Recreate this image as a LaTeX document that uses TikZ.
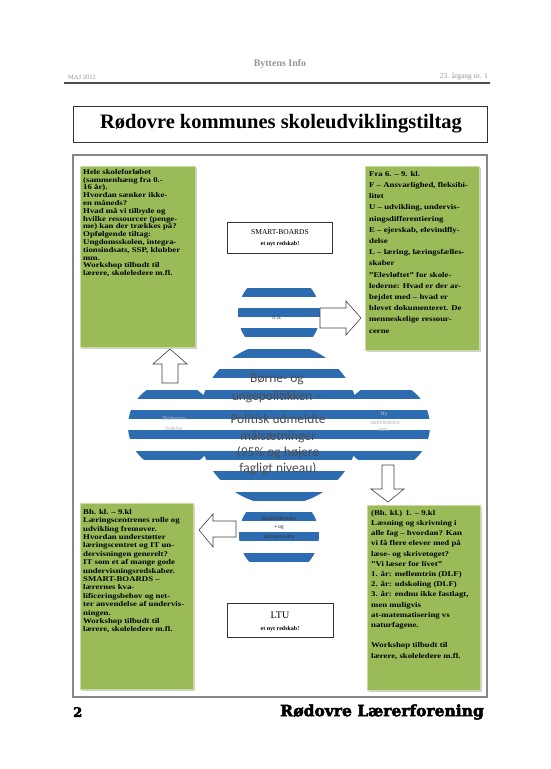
\documentclass[tikz,border=0pt]{standalone}
\usepackage{fontspec}
\setmainfont{Liberation Serif}
\newfontfamily\boxfont[FakeStretch=1.2]{Liberation Serif}
\newfontfamily\calib{Carlito}
\newfontfamily\heavyfont[FakeBold=3]{DejaVu Serif}
\usetikzlibrary{shadows}
\definecolor{boxgreen}{RGB}{155,187,89}
\definecolor{boxedge}{RGB}{200,218,160}
\definecolor{stripeblue}{RGB}{46,108,178}
\definecolor{framegray}{RGB}{135,135,135}
\definecolor{headgray}{RGB}{150,150,150}
\tikzset{
  greenbox/.style={fill=boxgreen, draw=boxedge, line width=0.8pt, inner sep=0pt,
    drop shadow={shadow xshift=1.5pt, shadow yshift=-1.5pt, fill=gray!45, opacity=0.8}},
  boxtext/.style={align=left, inner sep=0pt, anchor=north west, text=black},
  whitebox/.style={draw=black!80, line width=0.6pt, fill=white, inner sep=0pt},
  blockarrow/.style={draw=black!75, line width=0.6pt, fill=white},
  stripe/.style={fill=stripeblue},
  circletext/.style={inner sep=0pt, font=\calib\fontsize{6}{7}\selectfont, text=gray!55},
  maintext/.style={inner sep=0pt, font=\calib\fontsize{13.5}{15}\selectfont, text=black!70}
}
\begin{document}
\begin{tikzpicture}[x=1pt,y=-1pt]
\useasboundingbox (0,0) rectangle (550,769);
\fill[white] (0,0) rectangle (550,769);

% header
\node[inner sep=0pt, text=headgray, font=\bfseries\fontsize{10}{12}\selectfont] (hdr) at (280,64) {Byttens Info};
\node[inner sep=0pt, text=headgray, font=\fontsize{6.5}{8}\selectfont, anchor=west] (hdl) at (68,77) {MAJ 2012};
\node[inner sep=0pt, text=headgray, font=\fontsize{7.5}{9}\selectfont, anchor=east] (hdrt) at (488,77) {23. årgang nr. 1};
\draw[line width=1.6pt, black!70] (64,83) -- (490,83);

% title
\node[whitebox, minimum width=414pt, minimum height=36pt, anchor=north west] (titlebox) at (73,106) {};
\node[inner sep=0pt, font=\bfseries\fontsize{20.5}{24}\selectfont] (title) at (281,124) {Rødovre kommunes skoleudviklingstiltag};

% frame
\draw[framegray, line width=1.4pt] (73,155) rectangle (487,697);

% green boxes
\node[greenbox, minimum width=115pt, minimum height=181pt, anchor=north west] (tl) at (80,166) {};
\node[greenbox, minimum width=114pt, minimum height=184pt, anchor=north west] (tr) at (365,166) {};
\node[greenbox, minimum width=113pt, minimum height=186pt, anchor=north west] (bl) at (80,503) {};
\node[greenbox, minimum width=113pt, minimum height=185pt, anchor=north west] (br) at (367,505) {};

\node[boxtext, font=\boxfont\bfseries\fontsize{7.3}{7.8}\selectfont] (tlt) at ([xshift=3pt,yshift=-3pt]tl.north west) {%
Hele skoleforløbet\\
(sammenhæng fra 0.-\\
16 år).\\
Hvordan sænker ikke-\\
en måneds?\\
Hvad må vi tilbyde og\\
hvilke ressourcer (penge-\\
me) kan der trækkes på?\\
Opfølgende tiltag:\\
Ungdomsskolen, integra-\\
tionsindsats, SSP, klubber\\
mm.\\
Workshop tilbudt til\\
lærere, skoleledere m.fl.};

\node[boxtext, font=\boxfont\bfseries\fontsize{7.3}{11.2}\selectfont] (trt) at ([xshift=4pt,yshift=-5pt]tr.north west) {%
Fra 6. – 9. kl.\\
F – Ansvarlighed, fleksibi-\\
litet\\
U – udvikling, undervis-\\
ningsdifferentiering\\
E – ejerskab, elevindfly-\\
delse\\
L – læring, læringsfælles-\\
skaber\\
”Elevløftet” for skole-\\
lederne: Hvad er der ar-\\
bejdet med – hvad er\\
blevet dokumenteret. De\\
menneskelige ressour-\\
cerne};

\node[boxtext, font=\boxfont\bfseries\fontsize{7.3}{8.4}\selectfont] (blt) at ([xshift=3pt,yshift=-6pt]bl.north west) {%
Bh. kl. – 9.kl\\
Læringscentrenes rolle og\\
udvikling fremover.\\
Hvordan understøtter\\
læringscentret og IT un-\\
dervisningen generelt?\\
IT som et af mange gode\\
undervisningsredskaber.\\
SMART-BOARDS –\\
lærernes kva-\\
lificeringsbehov og net-\\
ter anvendelse af undervis-\\
ningen.\\
Workshop tilbudt til\\
lærere, skoleledere m.fl.};

\node[boxtext, font=\boxfont\bfseries\fontsize{7.3}{10.2}\selectfont] (brt) at ([xshift=4pt,yshift=-5pt]br.north west) {%
(Bh. kl.) 1. – 9.kl\\
Læsning og skrivning i\\
alle fag – hvordan? Kan\\
vi få flere elever med på\\
læse- og skrivetoget?\\
”Vi læser for livet”\\
1. år: mellemtrin (DLF)\\
2. år: udskoling (DLF)\\
3. år: endnu ikke fastlagt,\\
men muligvis\\
at-matematisering vs\\
naturfagene.\\[10.2pt]
Workshop tilbudt til\\
lærere, skoleledere m.fl.};

% small white boxes
\node[whitebox, minimum width=105pt, minimum height=31pt, anchor=north west] (smart) at (227,222) {};
\node[inner sep=0pt, font=\fontsize{7.5}{9}\selectfont] (smart1) at (280,232) {SMART-BOARDS};
\node[inner sep=0pt, font=\bfseries\fontsize{6}{7}\selectfont] (smart2) at (280,244) {et nyt redskab!};
\node[whitebox, minimum width=106pt, minimum height=34pt, anchor=north west] (ltu) at (227,603) {};
\node[inner sep=0pt, font=\fontsize{10}{12}\selectfont] (ltu1) at (280,615) {LTU};
\node[inner sep=0pt, font=\bfseries\fontsize{6}{7}\selectfont] (ltu2) at (280,629) {et nyt redskab!};

% striped circles
\coordinate (ctop) at (279,314);
\coordinate (cmid) at (279,424);
\coordinate (cleft) at (172,426);
\coordinate (cright) at (386,426);
\coordinate (cbot) at (279,535);
\begin{scope}
\clip (ctop) circle[radius=41pt] (cmid) circle[radius=81pt] (cleft) circle[radius=44pt]
      (cright) circle[radius=44pt] (cbot) circle[radius=40pt];
\foreach \k in {0,...,13} {
  \fill[stripe] (120,{287.5+20.4*\k}) rectangle (440,{296.5+20.4*\k});
}
\end{scope}

% circle texts
\node[inner sep=0pt, font=\calib\fontsize{6}{7}\selectfont, text=black!70] (toptext) at (277,317) {n.å.};
\node[maintext] (m1) at (277,379) {Børne- og};
\node[maintext] (m2) at (277,397) {ungepolitikken –};
\node[maintext] (m3) at (278,419) {Politisk udmeldte};
\node[maintext] (m4) at (278,437) {målsætninger};
\node[maintext] (m5) at (278,453) {(95\% og højere};
\node[maintext] (m6) at (278,469) {fagligt niveau)};
\node[circletext] (l1) at (174,418) {Skolernes};
\node[circletext] (l2) at (174,428) {ledelse};
\node[circletext] (r1) at (384,414) {Ny};
\node[circletext] (r2) at (385,422) {skoleledelse};
\node[circletext] (r3) at (384,430) {mm.};
\node[inner sep=0pt, font=\calib\fontsize{5.5}{6}\selectfont, text=black!80] (b1) at (279,519) {Skolebiblioteker};
\node[inner sep=0pt, font=\calib\fontsize{5.5}{6}\selectfont, text=black!80] (b2) at (279,527) {+ og};
\node[inner sep=0pt, font=\calib\fontsize{5.5}{6}\selectfont, text=black!80] (b3) at (279,537) {læringscentre};

% block arrows
\draw[blockarrow] (162,383) -- (162,364) -- (153,364) -- (170,349) -- (187,364) -- (178,364) -- (178,383) -- cycle;
\draw[blockarrow] (320,308) -- (346,308) -- (346,301) -- (361,318) -- (346,335) -- (346,328) -- (320,328) -- cycle;
\draw[blockarrow] (382,465) -- (382,489) -- (371,489) -- (388,502) -- (404,489) -- (394,489) -- (394,465) -- cycle;
\draw[blockarrow] (236,521) -- (213,521) -- (213,514) -- (199,530) -- (213,547) -- (213,537) -- (236,537) -- cycle;

% footer
\node[inner sep=0pt, font=\heavyfont\bfseries\fontsize{13}{15}\selectfont, anchor=west] (pg) at (73,712) {2};
\node[inner sep=0pt, font=\heavyfont\bfseries\fontsize{15.5}{18}\selectfont, anchor=east] (rl) at (484,712) {Rødovre Lærerforening};
\end{tikzpicture}
\end{document}
